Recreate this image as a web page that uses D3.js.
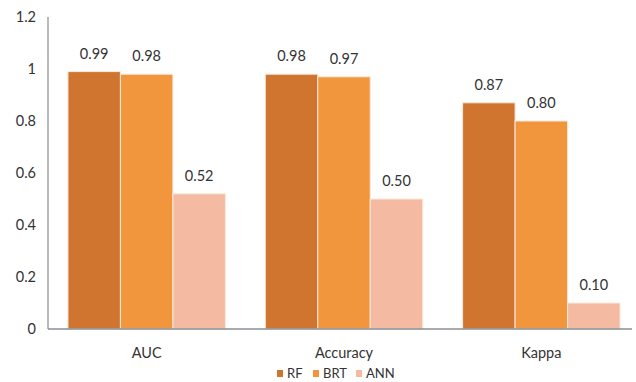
<!DOCTYPE html>
<html>
<head>
<meta charset="utf-8">
<script src="https://cdn.jsdelivr.net/npm/d3@7"></script>
<style>
  html, body { margin: 0; padding: 0; background: #fff; }
  svg { display: block; font-family: Lato, "Open Sans", sans-serif; }
</style>
</head>
<body>
<svg id="chart" width="636" height="382"></svg>
<script>
// Model performance metrics
const categories = ["AUC", "Accuracy", "Kappa"];
const seriesNames = ["RF", "BRT", "ANN"];
const rfValues  = [0.99, 0.98, 0.87];
const brtValues = [0.98, 0.97, 0.80];
const annValues = [0.52, 0.50, 0.10];
const yTicks = [0, 0.2, 0.4, 0.6, 0.8, 1, 1.2];
const colors = ["#cf7530", "#f2963e", "#f4bba2"];

const seriesValues = [rfValues, brtValues, annValues];
const rows = categories.map((c, i) => ({
  category: c,
  values: seriesNames.map((s, j) => ({ series: s, value: seriesValues[j][i] }))
}));

const svg = d3.select("#chart");
const plotLeft = 48, plotRight = 640, plotTop = 17, plotBottom = 329;

const y = d3.scaleLinear().domain([0, 1.2]).range([plotBottom, plotTop]);
const x0 = d3.scaleBand().domain(categories).range([plotLeft, plotRight]).padding(0);
const x1 = d3.scaleBand().domain(seriesNames).range([0, x0.bandwidth()])
  .paddingInner(0).paddingOuter(0.38);
const color = d3.scaleOrdinal().domain(seriesNames).range(colors);

// y tick labels (no tick marks, no gridlines)
const yAxis = svg.append("g")
  .attr("transform", `translate(${plotLeft},0)`)
  .call(d3.axisLeft(y).tickValues(yTicks).tickFormat(d3.format("~g")).tickSize(0).tickPadding(12));
yAxis.select(".domain").remove();
yAxis.selectAll("text").attr("font-size", 14.5).attr("fill", "#333").attr("font-family", "Lato, sans-serif");

// bars
const groups = svg.append("g").selectAll("g")
  .data(rows).join("g")
  .attr("transform", d => `translate(${x0(d.category)},0)`);

groups.selectAll("rect.bar")
  .data(d => d.values).join("rect")
  .attr("class", "bar")
  .attr("x", d => x1(d.series))
  .attr("y", d => y(d.value))
  .attr("width", x1.bandwidth())
  .attr("height", d => y(0) - y(d.value))
  .attr("fill", d => color(d.series))
  .attr("stroke", "#fbe9dc")
  .attr("stroke-width", 1);

// value labels
groups.selectAll("text.val")
  .data(d => d.values).join("text")
  .attr("class", "val")
  .attr("x", d => x1(d.series) + x1.bandwidth() / 2)
  .attr("y", d => y(d.value) - 13)
  .attr("text-anchor", "middle")
  .attr("font-size", 14.5)
  .attr("fill", "#333")
  .text(d => d3.format(".2f")(d.value));

// axis lines
svg.append("line")
  .attr("x1", plotLeft).attr("x2", plotLeft).attr("y1", plotTop).attr("y2", plotBottom)
  .attr("stroke", "#8a8a8a").attr("stroke-width", 1.2);
svg.append("line")
  .attr("x1", plotLeft).attr("x2", 632).attr("y1", plotBottom).attr("y2", plotBottom)
  .attr("stroke", "#8a8f96").attr("stroke-width", 1.4);

// category labels
const xAxis = svg.append("g")
  .attr("transform", `translate(0,${plotBottom})`)
  .call(d3.axisBottom(x0).tickSize(0).tickPadding(19));
xAxis.select(".domain").remove();
xAxis.selectAll("text").attr("font-size", 14.5).attr("fill", "#333").attr("font-family", "Lato, sans-serif");

// legend
const legendX = [277, 313, 356];
const legend = svg.append("g").selectAll("g")
  .data(seriesNames).join("g")
  .attr("transform", (d, i) => `translate(${legendX[i]},370)`);
legend.append("rect")
  .attr("width", 6).attr("height", 7)
  .attr("fill", d => color(d));
legend.append("text")
  .attr("x", 10).attr("y", 7.5)
  .attr("font-size", 13)
  .attr("fill", "#333")
  .text(d => d);
</script>
</body>
</html>
